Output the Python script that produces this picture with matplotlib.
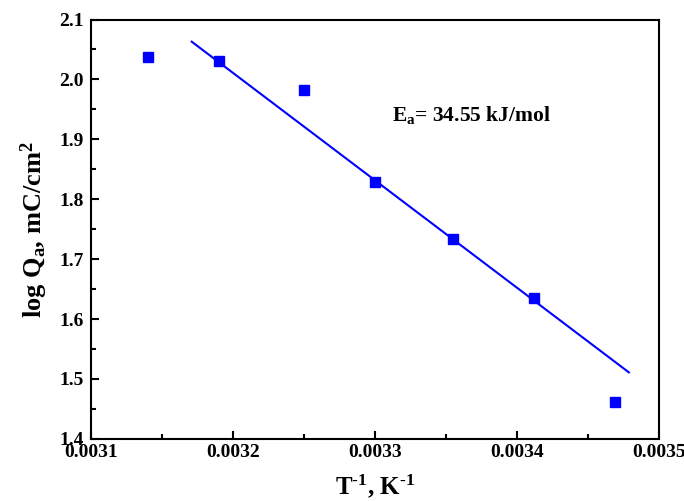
import matplotlib
matplotlib.use("Agg")
import matplotlib.pyplot as plt
from matplotlib.ticker import MultipleLocator, AutoMinorLocator

# inverse temperature (1/K) and log charge density (mC/cm^2)
inv_t = [0.003140, 0.003190, 0.003250, 0.003300, 0.003355, 0.003412, 0.003469]
log_q = [2.038, 2.030, 1.983, 1.829, 1.734, 1.635, 1.462]

# Arrhenius fit line end points
fit_x = [0.003171, 0.003479]
fit_y = [2.063, 1.511]

plt.rcParams["font.family"] = "Liberation Serif"
plt.rcParams["font.weight"] = "bold"
plt.rcParams["mathtext.fontset"] = "custom"
plt.rcParams["mathtext.rm"] = "Liberation Serif:bold"
plt.rcParams["mathtext.it"] = "Liberation Serif:bold"
plt.rcParams["mathtext.bf"] = "Liberation Serif:bold"

fig = plt.figure(figsize=(6.84, 5.01), dpi=100)
ax = fig.add_axes([0.133, 0.124, 0.830, 0.837])

ax.plot(fit_x, fit_y, color="#0000ff", lw=1.5, zorder=2)
ax.plot(inv_t, log_q, "s", color="#0000ff", ms=6.5, zorder=3)

ax.set_xlim(0.0031, 0.0035)
ax.set_ylim(1.4, 2.1)
ax.xaxis.set_major_locator(MultipleLocator(0.0001))
ax.yaxis.set_major_locator(MultipleLocator(0.1))
ax.xaxis.set_minor_locator(AutoMinorLocator(2))
ax.yaxis.set_minor_locator(AutoMinorLocator(2))
ax.xaxis.set_major_formatter(plt.FuncFormatter(lambda v, p: f"{v:.4f}"))
ax.yaxis.set_major_formatter(plt.FuncFormatter(lambda v, p: f"{v:.1f}"))

ax.tick_params(which="both", direction="in", width=1.5, labelsize=14, top=False, right=False)
ax.tick_params(which="major", length=6)
ax.tick_params(which="minor", length=3.5)
ax.tick_params(axis="x", pad=4)
ax.tick_params(axis="y", pad=5)
for s in ax.spines.values():
    s.set_linewidth(1.5)

ax.set_xlabel(r"T$^{\text{-1}}$, K$^{\text{-1}}$", fontsize=18, fontweight="bold", labelpad=8)
ax.set_ylabel(r"log Q$_{\rm a}$, mC/cm$^{\rm 2}$", fontsize=19, fontweight="bold", labelpad=7)

ax.text(0.003312, 1.94, r"E$_{\rm a}$= 34.55 kJ/mol", fontsize=15.5, fontweight="bold", va="center")

fig.savefig("out.png", dpi=100)
